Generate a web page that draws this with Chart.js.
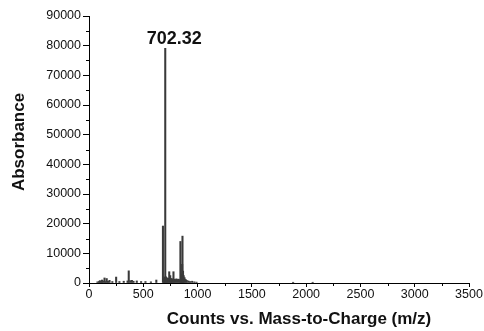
<!DOCTYPE html>
<html>
<head>
<meta charset="utf-8">
<script src="https://cdn.jsdelivr.net/npm/chart.js@4/dist/chart.umd.min.js"></script>
<style>
  html, body { margin: 0; padding: 0; background: #fff; }
  canvas { display: block; }
</style>
</head>
<body>
<canvas id="c" width="484" height="331"></canvas>
<script>
// m/z positions of peaks
const mzValues = [
  78, 92, 100, 110, 120, 130, 143, 152, 163, 175, 189, 215, 250, 280,
  320, 355, 366, 380, 395, 410, 440, 480, 520, 570, 620,
  681, 690, 695, 702.32, 708, 715, 722, 730, 739, 748, 755, 762, 770, 778, 786, 795, 805, 815,
  825, 835, 842, 848, 855, 858, 861, 866, 872, 880, 890, 900, 915, 930, 950, 970, 990,
  1880, 2060
];
// intensities (counts)
const intensityValues = [
  400, 500, 800, 600, 1000, 700, 1700, 500, 1500, 600, 900, 500, 2000, 500,
  600, 700, 4100, 800, 900, 600, 700, 500, 500, 400, 1000,
  19200, 1500, 2000, 79100, 2100, 1800, 1500, 1600, 3800, 2500, 1400, 1500, 1200, 3800, 1300, 1200, 1400, 1200,
  1300, 1100, 14000, 2500, 3000, 6300, 15800, 4000, 2500, 1800, 1200, 900, 700, 500, 600, 400, 300,
  250, 250
];
const peakLabel = "702.32";
const peakLabelMz = 702.32;
const xTicks = [0, 500, 1000, 1500, 2000, 2500, 3000, 3500];
const yTicks = [0, 10000, 20000, 30000, 40000, 50000, 60000, 70000, 80000, 90000];
const xTitle = "Counts vs. Mass-to-Charge (m/z)";
const yTitle = "Absorbance";

const points = mzValues.map((mz, i) => ({ x: mz, y: intensityValues[i] }));
const FONT = '"Liberation Sans", Arial, sans-serif';

const extras = {
  id: 'extras',
  afterDraw(chart) {
    const ctx = chart.ctx;
    const xs = chart.scales.x, ys = chart.scales.y;
    ctx.save();
    ctx.strokeStyle = '#000';
    ctx.lineWidth = 1;
    ctx.beginPath();
    for (let v = 5000; v < 90000; v += 10000) {
      const y = Math.round(ys.getPixelForValue(v)) + 0.5;
      ctx.moveTo(xs.left - 3, y); ctx.lineTo(xs.left, y);
    }
    for (let v = 250; v < 3500; v += 500) {
      const x = Math.round(xs.getPixelForValue(v)) + 0.5;
      ctx.moveTo(x, ys.bottom); ctx.lineTo(x, ys.bottom + 3);
    }
    ctx.stroke();
    // peak label
    const px = xs.getPixelForValue(peakLabelMz);
    const idx = mzValues.indexOf(peakLabelMz);
    const py = ys.getPixelForValue(intensityValues[idx]);
    ctx.fillStyle = '#111';
    ctx.font = 'bold 18px ' + FONT;
    ctx.textAlign = 'center';
    ctx.textBaseline = 'alphabetic';
    ctx.fillText(peakLabel, px + 9, py - 4);
    // axis titles
    ctx.font = 'bold 17px ' + FONT;
    ctx.textBaseline = 'middle';
    ctx.fillText(xTitle, 299, 319);
    ctx.translate(19, 142);
    ctx.rotate(-Math.PI / 2);
    ctx.fillText(yTitle, 0, 0);
    ctx.restore();
  }
};

new Chart(document.getElementById('c'), {
  type: 'bar',
  data: {
    datasets: [{
      data: points,
      backgroundColor: '#3a3a3a',
      borderWidth: 0,
      barThickness: 1.4,
      grouped: false
    }]
  },
  options: {
    responsive: false,
    animation: false,
    events: [],
    layout: { padding: { left: 0, top: 16, right: 15, bottom: 0 } },
    plugins: { legend: { display: false }, tooltip: { enabled: false } },
    scales: {
      x: {
        type: 'linear',
        offset: false,
        min: 0, max: 3500,
        afterBuildTicks(s) { s.ticks = xTicks.map(v => ({ value: v })); },
        afterFit(s) { s.height = 48; },
        grid: { display: true, offset: false, drawOnChartArea: false, drawTicks: true, tickLength: 4, color: '#000', tickColor: '#000' },
        border: { display: true, color: '#000', width: 1 },
        ticks: { color: '#111', padding: 0, maxRotation: 0, callback: v => String(v), font: { family: FONT, size: 12.5 } },
        title: { display: false }
      },
      y: {
        type: 'linear',
        min: 0, max: 90000,
        afterBuildTicks(s) { s.ticks = yTicks.map(v => ({ value: v })); },
        afterFit(s) { s.width = 89; },
        grid: { display: true, drawOnChartArea: false, drawTicks: true, tickLength: 6, color: '#000', tickColor: '#000' },
        border: { display: true, color: '#000', width: 1 },
        ticks: { color: '#111', padding: 2, callback: v => String(v), font: { family: FONT, size: 12.5 } },
        title: { display: false }
      }
    }
  },
  plugins: [extras]
});
</script>
</body>
</html>
